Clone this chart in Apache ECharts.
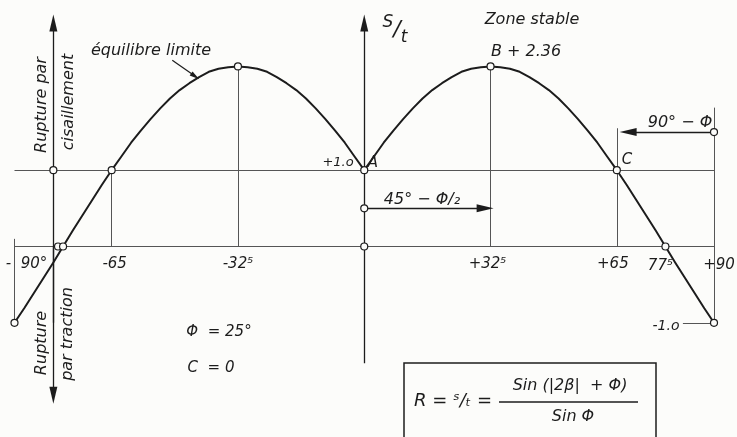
<!DOCTYPE html>
<html>
<head>
<meta charset="utf-8">
<script src="https://cdn.jsdelivr.net/npm/echarts@6/dist/echarts.min.js"></script>
<style>
  html, body { margin: 0; padding: 0; background: #fcfcfa; }
  #chart { width: 737px; height: 437px; }
</style>
</head>
<body>
<div id="chart"></div>
<script>
// angle beta (deg) and ratio R = s/t
const betaLeft = [-90, -87.5, -85, -82.5, -80, -77.5, -75, -72.5, -70, -67.5, -65, -62.5, -60, -57.5, -55, -52.5, -50,
  -47.5, -45, -42.5, -40, -37.5, -35, -32.5, -30, -27.5, -25, -22.5, -20, -17.5, -15, -12.5, -10, -7.5, -5, -2.5, 0];
const ratioLeft = [-1.00, -0.81, -0.61, -0.41, -0.21, 0, 0.21, 0.41, 0.61, 0.81, 1.00, 1.18, 1.36, 1.52, 1.67, 1.81, 1.94,
  2.05, 2.14, 2.22, 2.29, 2.33, 2.35, 2.36, 2.35, 2.33, 2.29, 2.22, 2.14, 2.05, 1.94, 1.81, 1.67, 1.52, 1.36, 1.18, 1.00];
const betaRight = [0, 2.5, 5, 7.5, 10, 12.5, 15, 17.5, 20, 22.5, 25, 27.5, 30, 32.5, 35, 37.5, 40, 42.5, 45, 47.5, 50,
  52.5, 55, 57.5, 60, 62.5, 65, 67.5, 70, 72.5, 75, 77.5, 80, 82.5, 85, 87.5, 90];
const ratioRight = [1.00, 1.18, 1.36, 1.52, 1.67, 1.81, 1.94, 2.05, 2.14, 2.22, 2.29, 2.33, 2.35, 2.36, 2.35, 2.33, 2.29,
  2.22, 2.14, 2.05, 1.94, 1.81, 1.67, 1.52, 1.36, 1.18, 1.00, 0.81, 0.61, 0.41, 0.21, 0, -0.21, -0.41, -0.61, -0.81, -1.00];

// marked points (small open circles)
const markedPoints = [[-90, -1], [-80, 1], [-65, 1], [-32.5, 2.36], [-78.8, 0], [-77.5, 0],
  [0, 1], [0, 0.5], [0, 0], [32.5, 2.36], [65, 1], [77.5, 0], [90, -1], [90, 1.5]];

// construction lines
const guideLines = [
  [[-90, 0], [90, 0]],
  [[-90, 1], [90, 1]],
  [[-90, -1], [-90, 0.1]],
  [[90, -1], [90, 1.82]],
  [[-65, 0], [-65, 1]],
  [[65, 0], [65, 1.55]],
  [[-32.5, 0], [-32.5, 2.36]],
  [[32.5, 0], [32.5, 2.36]],
  [[82, -1], [90, -1]]
];
// axes drawn as arrows
const axisArrows = [
  [[0, -1.53], [0, 2.93]],
  [[-80, -1.0], [-80, 2.93]],
  [[-80, 0], [-80, -1.95]]
];
// dimension arrows
const dimArrows = [
  [[0, 0.5], [31.1, 0.5]],
  [[90, 1.5], [67.9, 1.5]]
];
const leader = [[-49.4, 2.44], [-43.5, 2.23]];

// tick labels on the beta axis
const tickValues = [-90, -65, -32.5, 32.5, 65, 77.5, 90];
const tickLabels = ['-  90°', '-65', '-32⁵', '+32⁵', '+65', '77⁵', '+90'];
const tickOffsets = [[12, 10], [3, 10], [0, 10], [-3, 10], [-4, 10], [-5, 12], [5, 11]];

const ink = '#1c1c1c';
const thin = '#555555';
const arrowHead = 'path://M5,0 L10,20 L0,20 Z';

const chart = echarts.init(document.getElementById('chart'));

const toSeg = (arr) => arr.map(s => [{ coord: s[0] }, { coord: s[1] }]);
const txt = (x, y, text, size, extra) => Object.assign({
  type: 'text', x: x, y: y,
  style: { text: text, font: 'italic ' + size + 'px "DejaVu Sans"', fill: ink, align: 'center', verticalAlign: 'middle' }
}, extra || {});

chart.setOption({
  backgroundColor: '#fcfcfa',
  animation: false,
  grid: { left: 14.5, right: 23, top: 9.97, bottom: 22.64 },
  xAxis: { type: 'value', min: -90, max: 90, show: false },
  yAxis: { type: 'value', min: -2.2, max: 3.1, show: false },
  series: [
    {
      type: 'line', data: betaLeft.map((b, i) => [b, ratioLeft[i]]),
      smooth: false, showSymbol: false, lineStyle: { color: ink, width: 2, join: 'round' }, z: 5,
      markLine: {
        silent: true, symbol: ['none', 'none'], animation: false,
        lineStyle: { color: thin, width: 1, type: 'solid' }, label: { show: false },
        data: toSeg(guideLines)
      }
    },
    {
      type: 'line', data: betaRight.map((b, i) => [b, ratioRight[i]]),
      smooth: false, showSymbol: false, lineStyle: { color: ink, width: 2, join: 'round' }, z: 5,
      markLine: {
        silent: true, symbol: ['none', arrowHead], symbolSize: [8, 17], animation: false,
        lineStyle: { color: ink, width: 1.3, type: 'solid' }, itemStyle: { color: ink }, label: { show: false },
        data: toSeg(axisArrows.concat(dimArrows))
      }
    },
    {
      type: 'line', data: [], showSymbol: false,
      markLine: {
        silent: true, symbol: ['none', arrowHead], symbolSize: [5, 10], animation: false,
        lineStyle: { color: ink, width: 1.2, type: 'solid' }, label: { show: false },
        data: toSeg([leader])
      }
    },
    {
      type: 'scatter', data: markedPoints, symbol: 'circle', symbolSize: 7, z: 10,
      itemStyle: { color: '#fcfcfa', borderColor: ink, borderWidth: 1.2, opacity: 1 }
    },
    {
      type: 'scatter', symbolSize: 0, z: 11, itemStyle: { opacity: 1 },
      data: tickValues.map((v, i) => ({
        value: [v, 0],
        label: { show: true, formatter: tickLabels[i], offset: tickOffsets[i], color: ink }
      })),
      label: { position: 'bottom', fontFamily: 'DejaVu Sans', fontStyle: 'italic', fontSize: 15, color: ink, distance: 0 }
    }
  ],
  graphic: [
    txt(42, 105, 'Rupture par', 16, { rotation: Math.PI / 2 }),
    txt(69, 102, 'cisaillement', 16, { rotation: Math.PI / 2 }),
    txt(42, 343, 'Rupture', 16, { rotation: Math.PI / 2 }),
    txt(68, 334, 'par traction', 16, { rotation: Math.PI / 2 }),
    txt(151, 51, 'équilibre limite', 16),
    txt(388, 23, 'S', 17),
    txt(397, 30, '/', 22),
    txt(404, 38, 't', 17),
    txt(532, 20, 'Zone stable', 16),
    txt(526, 52, 'B + 2.36', 16),
    txt(338, 163, '+1.o', 13),
    txt(373, 163, 'A', 15),
    txt(627, 160, 'C', 15),
    txt(422, 200, '45° − Φ/₂', 16),
    txt(680, 123, '90° − Φ', 16),
    txt(666, 326, '-1.o', 14),
    txt(219, 332, 'Φ  = 25°', 15),
    txt(211, 368, 'C  = 0', 15),
    { type: 'rect', shape: { x: 404, y: 363, width: 252, height: 80 }, style: { fill: 'none', stroke: ink, lineWidth: 1.5 } },
    txt(453, 401, 'R = ˢ/ₜ =', 18),
    txt(570, 386, 'Sin (|2β|  + Φ)', 16),
    { type: 'line', shape: { x1: 499, y1: 402, x2: 638, y2: 402 }, style: { stroke: ink, lineWidth: 1.3 } },
    txt(573, 417, 'Sin Φ', 16)
  ]
});
</script>
</body>
</html>
